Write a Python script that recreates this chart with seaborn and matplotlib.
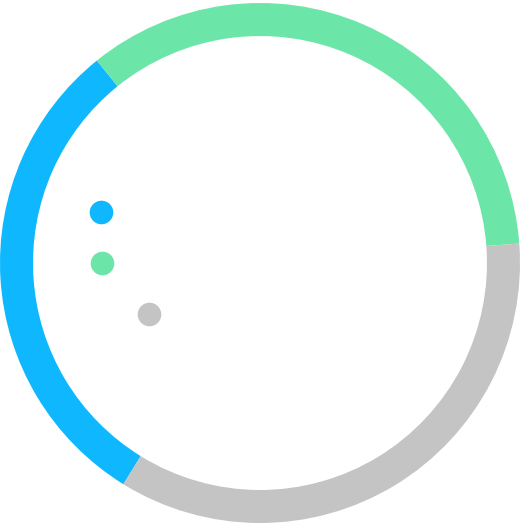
import matplotlib.pyplot as plt
import seaborn as sns

sns.set_theme(style="white")

# segment shares (clockwise from the lower-left)
segments = ['Blue', 'Green', 'Gray']
shares = [30.4, 34.6, 35.0]
colors = ['#0fb8fe', '#6be6a8', '#c4c4c4']

fig = plt.figure(figsize=(5.2, 5.26), dpi=100)
ax = fig.add_axes([0, 0, 1, 1])
ax.pie(shares, colors=colors, startangle=238.3, counterclock=False,
       radius=1.0, wedgeprops=dict(width=0.127, edgecolor='none'))
ax.set_aspect('equal')
ax.set_xlim(-1, 1)
ax.set_ylim(-1.0115, 1.0115)
ax.axis('off')

# legend dots (labels are blank in the original)
dot_pos = [(0.194, 0.597), (0.196, 0.500), (0.2865, 0.403)]
for (x, y), c in zip(dot_pos, colors):
    ax.plot(x, y, 'o', color=c, markersize=17, markeredgewidth=0,
            transform=fig.transFigure)

plt.savefig('out.png', dpi=100)
plt.close()
